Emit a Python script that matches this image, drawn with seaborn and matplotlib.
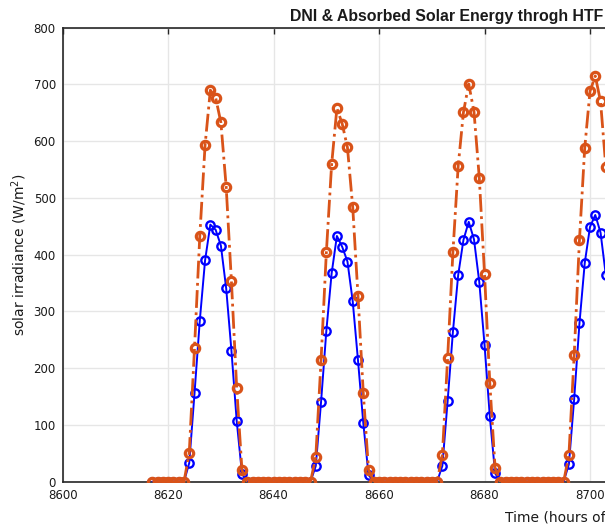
import matplotlib
matplotlib.use("Agg")
import matplotlib.pyplot as plt
import pandas as pd
import seaborn as sns

# Hourly time stamps (hours of the year)
hours = list(range(8617, 8704))

# Direct normal irradiance, W/m^2 (zeros are night hours)
dni_day1 = [51, 236, 433, 593, 690, 677, 633, 520, 353, 165, 20]
dni_day2 = [44, 215, 404, 559, 658, 631, 589, 484, 328, 157, 21]
dni_day3 = [47, 218, 404, 556, 651, 701, 652, 536, 366, 174, 24]
dni_day4 = [47, 223, 426, 588, 688, 715, 670, 555]

# Solar energy absorbed by the heat transfer fluid, W/m^2
abs_day1 = [33, 156, 284, 390, 453, 444, 416, 341, 231, 107, 14]
abs_day2 = [28, 141, 266, 367, 433, 414, 388, 318, 214, 104, 12]
abs_day3 = [28, 142, 264, 364, 426, 458, 427, 352, 241, 115, 15]
abs_day4 = [31, 146, 279, 385, 449, 470, 439, 364]

night_first = [0] * 7
night = [0] * 13

dni = night_first + dni_day1 + night + dni_day2 + night + dni_day3 + night + dni_day4
absorbed = night_first + abs_day1 + night + abs_day2 + night + abs_day3 + night + abs_day4

df = pd.DataFrame({"hour": hours, "dni": dni, "absorbed": absorbed})

x_ticks = [8600, 8620, 8640, 8660, 8680, 8700, 8720]
y_ticks = [0, 100, 200, 300, 400, 500, 600, 700, 800]

sns.set_theme(style="white")
plt.rcParams["font.family"] = ["DejaVu Sans"]

W, H = 605, 528
fig = plt.figure(figsize=(W / 100, H / 100), dpi=100)
px_per_hour = 5.273
ax = fig.add_axes([62.7 / W, 46.3 / H, 120 * px_per_hour / W, 454 / H])

BLUE = "#0000FF"
ORANGE = "#D95319"

sns.lineplot(data=df, x="hour", y="absorbed", ax=ax, color=BLUE,
             linewidth=1.4, marker="o", markersize=6,
             markerfacecolor="none", markeredgecolor=BLUE,
             markeredgewidth=1.7, estimator=None, sort=False, zorder=3)
sns.lineplot(data=df, x="hour", y="dni", ax=ax, color=ORANGE,
             linewidth=2.0, linestyle="-.", marker="o", markersize=6,
             markerfacecolor="none", markeredgecolor=ORANGE,
             markeredgewidth=2.3, estimator=None, sort=False, zorder=4)

ax.set_xlim(8600, 8720)
ax.set_ylim(0, 800)
ax.set_xticks(x_ticks)
ax.set_yticks(y_ticks)
ax.grid(True, color="#E6E6E6", linewidth=1.0)
ax.set_axisbelow(True)
ax.tick_params(direction="in", top=True, right=True, length=4, width=1.0,
               color="#262626", labelsize=8.5, labelcolor="#1a1a1a")
ax.tick_params(axis="x", pad=5)
ax.tick_params(axis="y", pad=5)
for s in ax.spines.values():
    s.set_color("#262626")
    s.set_linewidth(1.2)

ax.set_ylabel("solar irradiance (W/m$^2$)", fontsize=10, color="#1a1a1a",
              labelpad=3)
ax.set_xlabel("")
fig.text(505 / W, 1 - 518 / H, "Time (hours of year)", ha="left",
         va="center", fontsize=10, color="#1a1a1a")
fig.text(290 / W, 1 - 16 / H, "DNI & Absorbed Solar Energy throgh HTF",
         ha="left", va="center", fontsize=11.4, fontweight="bold",
         color="#1a1a1a", family="Liberation Sans")

fig.savefig("out.png", dpi=100)
